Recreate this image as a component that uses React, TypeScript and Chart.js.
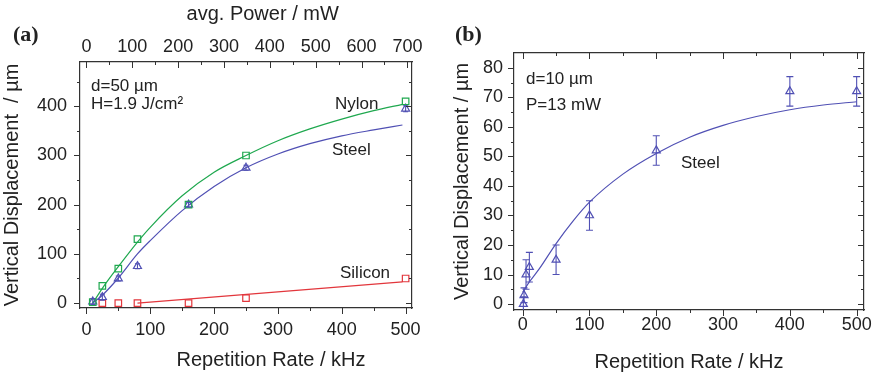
import React, { useEffect, useRef } from "react";
import { Chart, registerables } from "chart.js";
Chart.register(...registerables);

// ---------- colours & fonts ----------
const GREEN = "#1fa84f";
const BLUE = "#5050b4";
const RED = "#e2363c";
const INK = "#222222";
const AXIS = "#333333";
const SANS = "'Liberation Sans', Arial, Helvetica, sans-serif";
const SERIF = "'Liberation Serif', 'Times New Roman', serif";

// ---------- panel (a) data ----------
const rateA = [10, 25, 50, 80, 160, 250, 500];
const nylonA = [2, 35, 70, 130, 200, 300, 410];
const steelA = [3, 12, 50, 75, 200, 275, 395];
const steelErrA = [6, 6, 5, 5, 5, 5, 6];
const siliconRateA = [25, 50, 80, 160, 250, 500];
const siliconA = [0, 0, 0, 0, 10, 50];

const fitRateA = [10, 25, 50, 80, 100, 150, 200, 250, 300, 350, 400, 450, 495];
const nylonFitA = [0, 30, 74, 124, 154, 218, 266, 300, 330, 354, 374, 391, 404];
const steelFitA = [0, 16, 51, 100, 127, 188, 237, 275, 303, 324, 340, 352, 362];
const siliconFitRateA = [80, 495];
const siliconFitA = [0, 43];

const rateTicksA = [0, 100, 200, 300, 400, 500];
const rateMinorA = [50, 150, 250, 350, 450];
const dispTicksA = [0, 100, 200, 300, 400];
const dispMinorA = [50, 150, 250, 350, 450];
const powerTicks = [0, 100, 200, 300, 400, 500, 600, 700];
const powerMinor = [50, 150, 250, 350, 450, 550, 650];

// ---------- panel (b) data ----------
const rateB = [1, 2, 5, 10, 50, 100, 200, 400, 500];
const steelB = [0, 3, 10, 12.5, 15, 30, 52, 72, 72];
const steelErrB = [2.5, 2.5, 5, 5, 5, 5, 5, 5, 5];
const fitRateB = [0, 10, 25, 50, 75, 100, 150, 200, 250, 300, 350, 400, 450, 500];
const steelFitB = [4, 7.5, 12, 20.5, 28, 34.5, 44, 51, 56.5, 60.5, 63.5, 65.8, 67.4, 68.5];

const rateTicksB = [0, 100, 200, 300, 400, 500];
const rateMinorB = [50, 150, 250, 350, 450];
const dispTicksB = [0, 10, 20, 30, 40, 50, 60, 70, 80];
const dispMinorB = [5, 15, 25, 35, 45, 55, 65, 75];

const zip = (xs: number[], ys: number[]) => xs.map((x, i) => ({ x, y: ys[i] }));

type MarkSpec = { id: string; major: number[]; minor: number[]; inward: boolean };

function tickMarkPlugin(specs: MarkSpec[]) {
  return {
    id: "tickMarks",
    afterDraw(chart: any) {
      const { ctx, chartArea: ca } = chart;
      ctx.save();
      ctx.strokeStyle = AXIS;
      ctx.lineWidth = 1;
      for (const s of specs) {
        const sc = chart.scales[s.id];
        const pos = sc.options.position;
        const draw = (v: number, len: number) => {
          const p = Math.round(sc.getPixelForValue(v)) + 0.5;
          ctx.beginPath();
          if (pos === "top" || pos === "bottom") {
            const y0 = pos === "top" ? ca.top : ca.bottom;
            const dir = pos === "top" ? (s.inward ? 1 : -1) : s.inward ? -1 : 1;
            ctx.moveTo(p, y0);
            ctx.lineTo(p, y0 + dir * len);
          } else {
            const x0 = pos === "left" ? ca.left : ca.right;
            const dir = pos === "left" ? (s.inward ? 1 : -1) : s.inward ? -1 : 1;
            ctx.moveTo(x0, p);
            ctx.lineTo(x0 + dir * len, p);
          }
          ctx.stroke();
        };
        s.major.forEach((v) => draw(v, 6));
        s.minor.forEach((v) => draw(v, 3));
      }
      ctx.restore();
    },
  };
}

const errorBarPlugin = {
  id: "errorBars",
  afterDatasetsDraw(chart: any) {
    const { ctx, chartArea: ca } = chart;
    ctx.save();
    ctx.beginPath();
    ctx.rect(ca.left, ca.top, ca.right - ca.left, ca.bottom - ca.top);
    ctx.clip();
    chart.data.datasets.forEach((ds: any, i: number) => {
      if (!ds.errs) return;
      const meta = chart.getDatasetMeta(i);
      const ys = chart.scales[meta.yAxisID];
      ctx.strokeStyle = ds.borderColor;
      ctx.lineWidth = 1.1;
      ds.data.forEach((pt: any, j: number) => {
        const e = ds.errs[j];
        const x = meta.data[j].x;
        const yt = ys.getPixelForValue(pt.y + e);
        const yb = ys.getPixelForValue(pt.y - e);
        const cap = ds.capHalf || 3;
        ctx.beginPath();
        ctx.moveTo(x, yt);
        ctx.lineTo(x, yb);
        ctx.moveTo(x - cap, yt);
        ctx.lineTo(x + cap, yt);
        ctx.moveTo(x - cap, yb);
        ctx.lineTo(x + cap, yb);
        ctx.stroke();
      });
    });
    ctx.restore();
  },
};

type Label = { text: string; x: number; y: number; font: string };
function labelPlugin(labels: Label[]) {
  return {
    id: "labels",
    afterDraw(chart: any) {
      const ctx = chart.ctx;
      ctx.save();
      ctx.fillStyle = INK;
      ctx.textAlign = "left";
      ctx.textBaseline = "alphabetic";
      labels.forEach((l) => {
        ctx.font = l.font;
        ctx.fillText(l.text, l.x, l.y);
      });
      ctx.restore();
    },
  };
}

const fixedSize = (w?: number, h?: number) => (s: any) => {
  if (w !== undefined) s.width = w;
  if (h !== undefined) s.height = h;
};
const setTicks = (vals: number[]) => (s: any) => {
  s.ticks = vals.map((v) => ({ value: v }));
};

const tickFont = { family: SANS, size: 18 };
const titleFont = { family: SANS, size: 20 };
const border = { display: true, color: AXIS, width: 1.2 };
const noGrid = { drawOnChartArea: false, drawTicks: false };

function lineDs(xs: number[], ys: number[], color: string, xAxisID = "x", yAxisID = "y") {
  return {
    data: zip(xs, ys),
    showLine: true,
    borderColor: color,
    borderWidth: 1.2,
    pointRadius: 0,
    cubicInterpolationMode: "monotone",
    xAxisID,
    yAxisID,
  };
}
function pointDs(xs: number[], ys: number[], color: string, style: string, r: number, extra: any = {}) {
  return {
    data: zip(xs, ys),
    showLine: false,
    borderColor: color,
    backgroundColor: "rgba(0,0,0,0)",
    pointStyle: style,
    pointRadius: r,
    pointBorderWidth: 1.2,
    pointBorderColor: color,
    pointBackgroundColor: "rgba(0,0,0,0)",
    ...extra,
  };
}

function configA(): any {
  return {
    type: "scatter",
    data: {
      datasets: [
        pointDs(rateA, nylonA, GREEN, "rect", 4.6),
        pointDs(rateA, steelA, BLUE, "triangle", 4.6, { errs: steelErrA, capHalf: 2.5 }),
        pointDs(siliconRateA, siliconA, RED, "rect", 4.6),
        lineDs(fitRateA, nylonFitA, GREEN),
        lineDs(fitRateA, steelFitA, BLUE),
        lineDs(siliconFitRateA, siliconFitA, RED),
      ],
    },
    options: {
      responsive: false,
      animation: false,
      events: [],
      layout: { padding: 0 },
      plugins: { legend: { display: false }, tooltip: { enabled: false } },
      scales: {
        x: {
          type: "linear",
          position: "bottom",
          min: -10,
          max: 510,
          afterBuildTicks: setTicks(rateTicksA),
          afterFit: fixedSize(undefined, 69),
          grid: noGrid,
          border,
          ticks: { font: tickFont, color: INK, padding: 11, maxRotation: 0 },
          title: {
            display: true,
            text: "         Repetition Rate / kHz",
            font: titleFont,
            color: INK,
            padding: { top: 0, bottom: 5 },
          },
        },
        x2: {
          type: "linear",
          position: "top",
          min: -14,
          max: 710,
          afterBuildTicks: setTicks(powerTicks),
          afterFit: fixedSize(undefined, 62),
          grid: noGrid,
          border,
          ticks: { font: tickFont, color: INK, padding: 4, maxRotation: 0 },
          title: {
            display: true,
            text: "      avg. Power / mW",
            font: titleFont,
            color: INK,
            padding: { top: 2, bottom: 0 },
          },
        },
        y: {
          type: "linear",
          position: "left",
          min: -10,
          max: 490,
          afterBuildTicks: setTicks(dispTicksA),
          afterFit: fixedSize(80),
          grid: noGrid,
          border,
          ticks: { font: tickFont, color: INK, padding: 13 },
          title: {
            display: true,
            text: "Vertical Displacement  / µm",
            font: titleFont,
            color: INK,
            padding: { top: 0, bottom: 0 },
          },
        },
        y2: {
          type: "linear",
          position: "right",
          min: -10,
          max: 490,
          afterFit: fixedSize(26),
          grid: noGrid,
          border,
          ticks: { display: false },
        },
      },
    },
    plugins: [
      errorBarPlugin,
      tickMarkPlugin([
        { id: "x", major: rateTicksA, minor: rateMinorA, inward: false },
        { id: "x2", major: powerTicks, minor: powerMinor, inward: true },
        { id: "y", major: dispTicksA, minor: dispMinorA, inward: false },
        { id: "y2", major: dispTicksA, minor: dispMinorA, inward: true },
      ]),
      labelPlugin([
        { text: "(a)", x: 13, y: 40.5, font: `bold 22px ${SERIF}` },
        { text: "d=50 µm", x: 91, y: 90.5, font: `17px ${SANS}` },
        { text: "H=1.9 J/cm²", x: 91, y: 108.5, font: `17px ${SANS}` },
        { text: "Nylon", x: 335, y: 108.5, font: `17px ${SANS}` },
        { text: "Steel", x: 332, y: 155, font: `17px ${SANS}` },
        { text: "Silicon", x: 340, y: 277.5, font: `17px ${SANS}` },
      ]),
    ],
  };
}

function configB(): any {
  return {
    type: "scatter",
    data: {
      datasets: [
        pointDs(rateB, steelB, BLUE, "triangle", 4.6, { errs: steelErrB, capHalf: 3.5 }),
        lineDs(fitRateB, steelFitB, BLUE),
      ],
    },
    options: {
      responsive: false,
      animation: false,
      events: [],
      layout: { padding: 0 },
      plugins: { legend: { display: false }, tooltip: { enabled: false } },
      scales: {
        x: {
          type: "linear",
          position: "bottom",
          min: -13,
          max: 511,
          afterBuildTicks: setTicks(rateTicksB),
          afterFit: fixedSize(undefined, 67),
          grid: noGrid,
          border,
          ticks: { font: tickFont, color: INK, padding: 4, maxRotation: 0 },
          title: {
            display: true,
            text: "Repetition Rate / kHz",
            font: titleFont,
            color: INK,
            padding: { top: 0, bottom: 2.5 },
          },
        },
        x2: {
          type: "linear",
          position: "top",
          min: -13,
          max: 511,
          afterFit: fixedSize(undefined, 53),
          grid: noGrid,
          border,
          ticks: { display: false },
        },
        y: {
          type: "linear",
          position: "left",
          min: -2,
          max: 85,
          afterBuildTicks: setTicks(dispTicksB),
          afterFit: fixedSize(76),
          grid: noGrid,
          border,
          ticks: { font: tickFont, color: INK, padding: 11 },
          title: {
            display: true,
            text: "Vertical Displacement / µm",
            font: titleFont,
            color: INK,
            padding: { top: 12, bottom: 0 },
          },
        },
        y2: {
          type: "linear",
          position: "right",
          min: -2,
          max: 85,
          afterFit: fixedSize(12),
          grid: noGrid,
          border,
          ticks: { display: false },
        },
      },
    },
    plugins: [
      errorBarPlugin,
      tickMarkPlugin([
        { id: "x", major: rateTicksB, minor: rateMinorB, inward: false },
        { id: "x2", major: rateTicksB, minor: rateMinorB, inward: true },
        { id: "y", major: dispTicksB, minor: dispMinorB, inward: false },
        { id: "y2", major: dispTicksB, minor: dispMinorB, inward: true },
      ]),
      labelPlugin([
        { text: "(b)", x: 17, y: 40.5, font: `bold 22px ${SERIF}` },
        { text: "d=10 µm", x: 88, y: 83.5, font: `17px ${SANS}` },
        { text: "P=13 mW", x: 88, y: 109.5, font: `17px ${SANS}` },
        { text: "Steel", x: 243, y: 167.5, font: `17px ${SANS}` },
      ]),
    ],
  };
}

export default function App() {
  const refA = useRef<HTMLCanvasElement | null>(null);
  const refB = useRef<HTMLCanvasElement | null>(null);
  useEffect(() => {
    const a = new Chart(refA.current as HTMLCanvasElement, configA());
    const b = new Chart(refB.current as HTMLCanvasElement, configB());
    return () => {
      a.destroy();
      b.destroy();
    };
  }, []);
  return (
    <div style={{ position: "fixed", left: 0, top: 0, width: 876, height: 377, background: "#fff" }}>
      <canvas ref={refA} width={438} height={377} style={{ position: "absolute", left: 0, top: 0, width: 438, height: 377 }} />
      <canvas ref={refB} width={438} height={377} style={{ position: "absolute", left: 438, top: 0, width: 438, height: 377 }} />
    </div>
  );
}
